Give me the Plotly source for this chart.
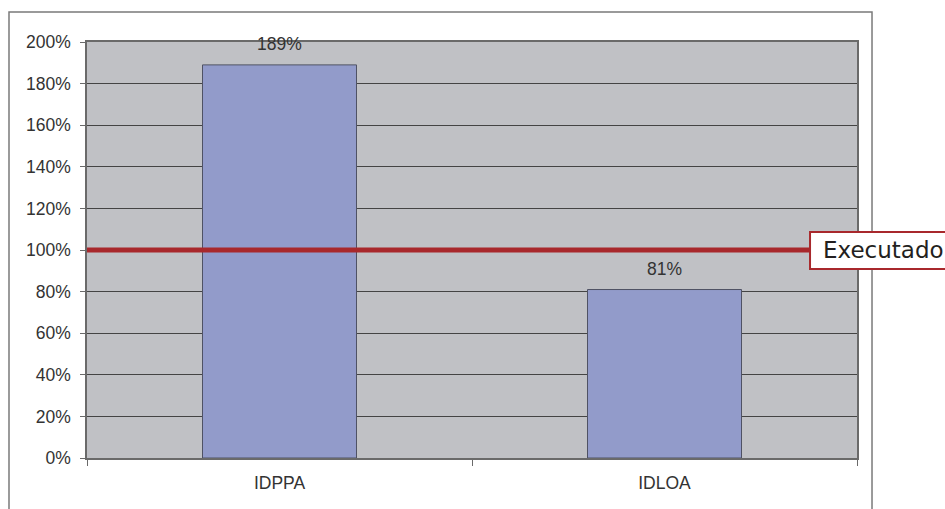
import plotly.graph_objects as go

# Indicator values (share of target reached)
categories = ["IDPPA", "IDLOA"]
values = [1.89, 0.81]
value_labels = ["189%", "81%"]
reference_level = 1.0
reference_label = "Executado"

y_ticks = [0, 0.2, 0.4, 0.6, 0.8, 1.0, 1.2, 1.4, 1.6, 1.8, 2.0]
y_ticktext = ["0%", "20%", "40%", "60%", "80%", "100%", "120%", "140%", "160%", "180%", "200%"]

fig = go.Figure()

fig.add_trace(go.Bar(
    x=categories,
    y=values,
    marker=dict(color="#929BCA", line=dict(color="#4F5264", width=1)),
    width=0.4,
    hoverinfo="skip",
))

# Value labels above each bar
for cat, val, lab in zip(categories, values, value_labels):
    fig.add_annotation(
        x=cat, y=val, text=lab, showarrow=False,
        xanchor="center", yanchor="bottom", yshift=9,
        font=dict(family="Liberation Sans, Arial", size=17.5, color="#333333"),
    )

# Outer chart frame
fig.add_shape(type="rect", xref="paper", yref="paper",
              x0=-0.1013, x1=1.0195, y0=-0.2, y1=1.0721,
              line=dict(color="#7A7A7A", width=1.5), fillcolor="rgba(0,0,0,0)",
              layer="below")

# Reference line at 100%
fig.add_shape(type="line", xref="paper", yref="y",
              x0=0, x1=0.939, y0=reference_level, y1=reference_level,
              line=dict(color="#A8282C", width=5), layer="above")

# Label box for the reference line
fig.add_shape(type="rect", xref="paper", yref="y",
              x0=0.939, x1=1.2, y0=reference_level - 0.0913, y1=reference_level + 0.0865,
              line=dict(color="#A8282C", width=2), fillcolor="white", layer="above")
fig.add_annotation(
    xref="paper", yref="y", x=0.9535, y=reference_level,
    text=reference_label, showarrow=False, xanchor="left", yanchor="middle",
    font=dict(family="DejaVu Sans", size=23, color="#231F20"),
)

fig.update_layout(
    width=945, height=509,
    margin=dict(l=87, r=88, t=42, b=51),
    paper_bgcolor="white",
    plot_bgcolor="#C0C1C5",
    showlegend=False,
    bargap=0.6,
    font=dict(family="Liberation Sans, Arial", size=17.5, color="#333333"),
)

fig.update_xaxes(
    type="category",
    showgrid=False,
    showline=True, linecolor="#6A6A6A", linewidth=1.5, mirror=True,
    ticks="outside", ticklen=6, tickcolor="#6A6A6A", tickson="boundaries",
    ticklabelstandoff=8,
    tickfont=dict(family="Liberation Sans, Arial", size=17.5, color="#333333"),
)

fig.update_yaxes(
    range=[0, 2.0],
    tickvals=y_ticks, ticktext=y_ticktext,
    showgrid=True, gridcolor="#444444", gridwidth=1,
    zeroline=False,
    showline=True, linecolor="#6A6A6A", linewidth=1.5, mirror=True,
    ticks="outside", ticklen=5, tickcolor="#6A6A6A",
    ticklabelstandoff=6,
    tickfont=dict(family="Liberation Sans, Arial", size=17.5, color="#333333"),
)

fig.write_html("out.html")
